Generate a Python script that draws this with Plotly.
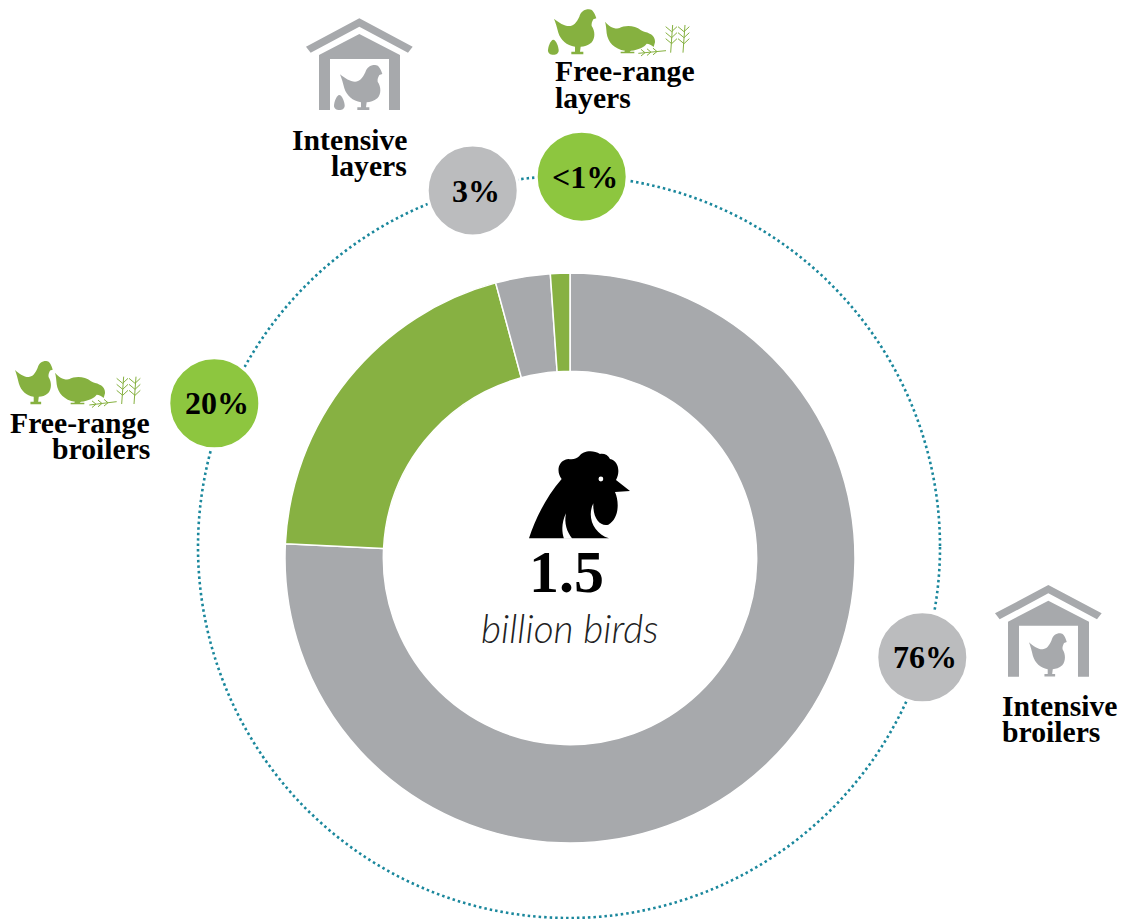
import re
import plotly.graph_objects as go

# ---- data ----
categories = ["Intensive broilers", "Free-range broilers", "Intensive layers", "Free-range layers"]
shares = [75.8, 20.0, 3.1, 1.1]
share_labels = ["76%", "20%", "3%", "<1%"]
total_value = "1.5"
total_unit = "billion birds"

# ---- style ----
W, H = 1124, 919
DONUT_GREY, DONUT_GREEN = "#a7a9ac", "#87b142"
BADGE_GREY, BADGE_GREEN = "#bbbcbe", "#8dc63f"
ICON_GREY, ICON_GREEN = "#a7a9ac", "#86b140"
TEAL = "#1a879c"
SERIF = "Liberation Serif"


def px(x):
    return x / W


def py(y):
    return 1 - y / H


def tr(path, ox=0.0, oy=0.0, sx=1.0, sy=None):
    """Map an absolute path in local units to paper coordinates."""
    sy = sx if sy is None else sy
    out, is_x = [], True
    for tok in re.findall(r"[MLCQZ]|-?[\d.]+", path):
        if tok.isalpha():
            out.append(tok)
            is_x = True
        else:
            v = float(tok)
            out.append(f"{px(ox + v * sx):.5f}" if is_x else f"{py(oy + v * sy):.5f}")
            is_x = not is_x
    return " ".join(out)


shapes = []


def fill(path, color, **k):
    shapes.append(dict(type="path", xref="paper", yref="paper", path=tr(path, **k),
                       fillcolor=color, line=dict(width=0), layer="above"))


def stroke(path, color, width=1.0, **k):
    shapes.append(dict(type="path", xref="paper", yref="paper", path=tr(path, **k),
                       line=dict(color=color, width=width), layer="above"))


def ellipse(cx, cy, rx, ry, color, line=None):
    shapes.append(dict(type="circle", xref="paper", yref="paper", x0=px(cx - rx), x1=px(cx + rx),
                       y0=py(cy + ry), y1=py(cy - ry), fillcolor=color, layer="above",
                       line=line or dict(width=0)))


HEN = ("M0,28 C15,40 30,50 45,50 C58,50 68,40 76,22 C80,8 90,0 105,0 C115,0 122,10 127,27 L118,30 "
       "C114,38 112,42 113,50 C124,65 124,88 112,100 C102,108 90,112 80,112 L78,127 L88,127 L88,135 "
       "L52,135 L52,127 L63,127 L63,112 C38,108 20,92 13,70 C9,55 5,40 0,28 Z")
PECK = ("M0,0 C12,14 25,22 42,20 C60,10 88,10 108,26 C116,32 124,30 134,36 C144,40 151,50 150,62 "
        "L146,76 C140,70 132,66 125,66 C118,76 100,85 78,87 L74,90 L88,90 L88,95 L47,95 L47,90 L58,90 "
        "L60,87 C28,84 8,60 5,35 C4,22 3,10 0,0 Z")
EGG = "M16,0 C24,0 32,22 32,32 C32,40 25,45 16,45 C7,45 0,40 0,32 C0,22 8,0 16,0 Z"
ROOF = "M238,55 L398,140 L384,158 L238,80 L92,158 L78,140 Z"
BODY = "M238,102 L360,165 L360,330 L327,330 L327,177 L150,177 L150,330 L117,330 L117,165 Z"
ROOSTER = ("M207,325 C225,270 255,205 305,147 C290,130 290,92 325,87 C340,90 352,85 358,78 "
           "C368,62 400,58 420,72 C432,70 445,75 450,87 C475,92 482,125 468,150 L510,183 L465,186 "
           "C478,215 478,265 445,284 C420,290 398,265 400,220 C380,260 400,310 447,325 Z")
CRESCENT_A = "M318,250 C303,280 306,310 312,326 L337,326 C320,305 312,280 318,250 Z"


def grass(ox, oy, x1, x2, ytop, ybot, sx0, sx1, sy0, sy1):
    """Thin sprigs; local zoomed units (three per pixel)."""
    for x in (x1, x2):
        stroke(f"M{x},{ybot} L{x + 6},{ytop}", ICON_GREEN, ox=ox, oy=oy, sx=1 / 3)
        for t in (20, 38, 56):
            stroke(f"M{x - 15},{ytop + t - 15} L{x + 3},{ytop + t} L{x + 19},{ytop + t - 15}",
                   ICON_GREEN, ox=ox, oy=oy, sx=1 / 3)
    stroke(f"M{sx0},{sy0} L{sx1},{sy1}", ICON_GREEN, ox=ox, oy=oy, sx=1 / 3)
    for t in (20, 38, 56):
        xm = sx0 + t
        ym = sy0 + (sy1 - sy0) * t / (sx1 - sx0)
        stroke(f"M{xm - 12},{ym - 10} L{xm},{ym} L{xm - 12},{ym + 10}", ICON_GREEN, ox=ox, oy=oy, sx=1 / 3)


# dotted orbit
shapes.append(dict(type="circle", xref="paper", yref="paper", layer="above",
                   x0=px(569 - 371), x1=px(569 + 371), y0=py(547 + 371), y1=py(547 - 371),
                   line=dict(color=TEAL, width=2.6, dash="2.5px,3px")))

# houses
for ox, oy in ((280, 0), (969, 566.7)):
    fill(ROOF, ICON_GREY, ox=ox, oy=oy, sx=1 / 3)
    fill(BODY, ICON_GREY, ox=ox, oy=oy, sx=1 / 3)
fill(HEN, ICON_GREY, ox=340, oy=65, sx=1 / 3)
fill(EGG, ICON_GREY, ox=334, oy=95, sx=1 / 3)
fill(HEN, ICON_GREY, ox=1029, oy=633.3, sx=0.297, sy=0.32)

# free-range icons
fill(HEN, ICON_GREEN, ox=554, oy=9.3, sx=1 / 3)
fill(EGG, ICON_GREEN, ox=548, oy=39.8, sx=1 / 3)
fill(PECK, ICON_GREEN, ox=605, oy=21.7, sx=1 / 3)
grass(280, 0, 1172, 1209, 75, 158, 1075, 1158, 160, 152)
fill(HEN, ICON_GREEN, ox=15, oy=361, sx=0.297, sy=0.32)
fill(PECK, ICON_GREEN, ox=55, oy=372.7, sx=1 / 3)
grass(0, 350, 365, 402, 80, 162, 268, 350, 165, 155)

# rooster
fill(ROOSTER, "#000000", ox=460, oy=430, sx=1 / 3)
fill(CRESCENT_A, "#ffffff", ox=460, oy=430, sx=1 / 3)
ellipse(600.9, 479, 2.4, 2.4, "#ffffff")

# badges
badge_pos = [(922.3, 657.3), (214.3, 403.3), (472.7, 190.5), (581.7, 176.7)]
badge_col = [BADGE_GREY, BADGE_GREEN, BADGE_GREY, BADGE_GREEN]
for (cx, cy), col in zip(badge_pos, badge_col):
    ellipse(cx, cy, 45.5, 45.5, col, line=dict(color="#ffffff", width=3))

annotations = []


def text(s, x, y, size, anchor="center", family=SERIF, color="#000000", weight=700, style="normal"):
    annotations.append(dict(text=s, xref="paper", yref="paper", x=px(x), y=py(y), showarrow=False,
                            xanchor=anchor, yanchor="middle", borderpad=0,
                            font=dict(family=family, size=size, color=color, weight=weight, style=style)))


for (cx, cy), lab in zip(badge_pos, share_labels):
    text(lab.replace("<", "&lt;"), cx + 3, cy, 32)

# category labels, one annotation per line
label_layout = [
    (categories[0].split(" "), 1000.5, 705.5, 731.5, "left"),
    (categories[1].split(" "), 150.5, 422.5, 448.5, "right"),
    (categories[2].split(" "), 408, 139.5, 165.5, "right"),
    (categories[3].split(" "), 554, 71.5, 97.5, "left"),
]
for (words, x, y1, y2, anc) in label_layout:
    text(words[0], x, y1, 29.7, anc)
    text(words[1], x, y2, 29.7, anc)

text(total_value, 566, 572, 60)
text(total_unit, 569.5, 627.5, 38.8, family="Lato", weight=300, style="italic", color="#222222")

fig = go.Figure(go.Pie(
    labels=categories, values=shares, sort=False, direction="clockwise", rotation=0,
    hole=0.655, textinfo="none", hoverinfo="label+percent",
    marker=dict(colors=[DONUT_GREY, DONUT_GREEN, DONUT_GREY, DONUT_GREEN],
                line=dict(color="#ffffff", width=1.5)),
    domain=dict(x=[px(285), px(855)], y=[py(843), py(273)]),
))
fig.update_layout(width=W, height=H, margin=dict(l=0, r=0, t=0, b=0), showlegend=False,
                  paper_bgcolor="#ffffff", plot_bgcolor="#ffffff",
                  shapes=shapes, annotations=annotations)
fig.write_html("out.html", config={"displayModeBar": False},
               post_script="document.body.style.margin='0';")
